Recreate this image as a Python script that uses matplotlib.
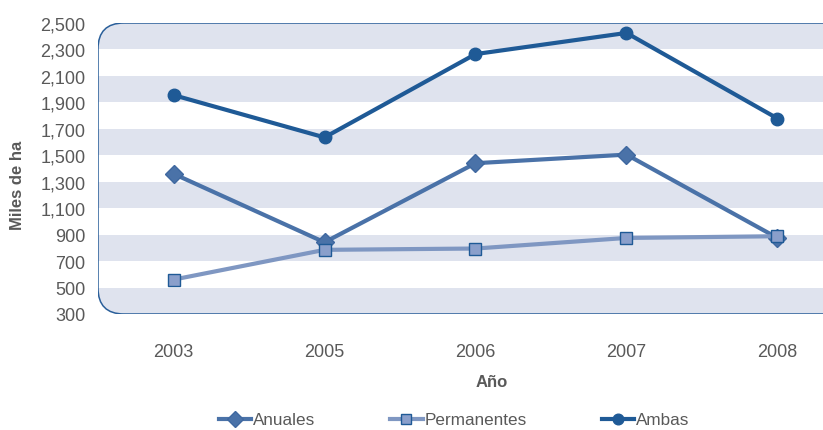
import matplotlib
matplotlib.use("Agg")
import matplotlib.pyplot as plt
from matplotlib.patches import FancyBboxPatch
from matplotlib.patches import BoxStyle

plt.rcParams['font.family'] = ['Liberation Sans', 'DejaVu Sans']

years = ["2003", "2005", "2006", "2007", "2008"]
anuales = [1360, 842, 1440, 1505, 875]
permanentes = [560, 785, 795, 875, 888]
ambas = [1955, 1635, 2265, 2425, 1778]
yticks = list(range(300, 2501, 200))

W, H = 823, 431
fig = plt.figure(figsize=(W / 100, H / 100), dpi=100)

ax_l, ax_r, ax_t, ax_b = 98, 853, 24, 315
ax = fig.add_axes([ax_l / W, 1 - ax_b / H, (ax_r - ax_l) / W, (ax_b - ax_t) / H])
ax.set_xlim(-0.5, 4.5)
ax.set_ylim(300, 2500)
ax.patch.set_visible(False)
for s in ax.spines.values():
    s.set_visible(False)

aw, ah = ax_r - ax_l, ax_b - ax_t
r = 26
box = FancyBboxPatch((0, 0), 1, 1, boxstyle=BoxStyle.Round(pad=0, rounding_size=r / aw),
                     mutation_aspect=aw / ah, transform=ax.transAxes,
                     facecolor='white', edgecolor='none', zorder=0)
ax.add_patch(box)
band = '#DFE3EE'
for i in range(len(yticks) - 1):
    if i % 2 == 0:
        sp = ax.axhspan(yticks[i], yticks[i + 1], color=band, lw=0, zorder=0.5)
        sp.set_clip_path(box)
border = FancyBboxPatch((0, 0), 1, 1, boxstyle=BoxStyle.Round(pad=0, rounding_size=r / aw),
                        mutation_aspect=aw / ah, transform=ax.transAxes,
                        facecolor='none', edgecolor='#2A5F9A', lw=1.1, zorder=1)
ax.add_patch(border)

x = list(range(len(years)))
c_amb = '#1F5A96'
c_anu = '#4A72A8'
c_per = '#7F97C2'
ax.plot(x, anuales, color=c_anu, lw=3, marker='D', ms=9, mfc=c_anu, mec='#3F68A0',
        mew=1, zorder=3, label='Anuales')
ax.plot(x, permanentes, color=c_per, lw=3, marker='s', ms=8.4, mfc='#8A9FCB', mec=c_amb,
        mew=1, zorder=3, label='Permanentes')
ax.plot(x, ambas, color=c_amb, lw=3, marker='o', ms=9, mfc=c_amb, mec=c_amb,
        mew=1, zorder=4, label='Ambas')

tc = '#595959'
ax.set_yticks(yticks)
ax.set_yticklabels([f"{v:,}" for v in yticks])
ax.set_xticks(x)
ax.set_xticklabels(years)
ax.tick_params(axis='y', length=0, pad=9, labelsize=13, labelcolor=tc)
ax.tick_params(axis='x', length=0, pad=21, labelsize=13, labelcolor=tc)

fig.text(18 / W, 1 - 185 / H, 'Miles de ha', rotation=90, ha='center', va='center',
         fontsize=12, fontweight='bold', color=tc)
fig.text(492 / W, 1 - 383 / H, 'Año', ha='center', va='center',
         fontsize=12, fontweight='bold', color=tc)

leg = fig.legend(loc='center', bbox_to_anchor=(454 / W, 1 - 421 / H), ncol=3,
                 frameon=False, fontsize=12.3, handlelength=1.9, handletextpad=0.1,
                 columnspacing=4.4, borderaxespad=0, labelcolor=tc, markerscale=0.85)

fig.savefig('out.png', dpi=100)
